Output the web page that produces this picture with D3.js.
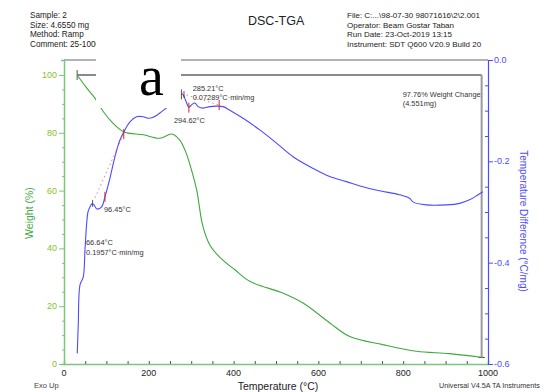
<!DOCTYPE html>
<html><head><meta charset="utf-8">
<script src="https://cdn.jsdelivr.net/npm/d3@7"></script>
<style>body{margin:0;background:#fff}svg{display:block}</style>
</head><body>
<svg id="c" width="551" height="392" font-family="'Liberation Sans',Arial,sans-serif"></svg>
<script>
// ---- data ----
const weightT = [31,52,73,93,113,140,187,226,254,273,287,297,313,327,344,367,403,438,517,564,627,674,752,831,909,988];
const weightW = [100,95.8,92,87.3,83.7,80.4,79.3,78.1,79.6,77.5,73.4,69,60.2,48,41.2,37,32.6,28.6,24.5,21.1,14.2,9.5,6.7,4.4,3.6,2.24];
const dtaT = [31.3,33.7,37.7,45.5,49.5,53.5,56.5,61.2,66,70.7,77.7,88.8,96.6,108.4,120.1,131.9,143.7,155.5,171.3,186.8,198.6,210.4,230.2,255,277.3,282.7,287.4,294.5,301.5,308.6,316.4,328.2,343.9,359.7,375.3,391,422.4,461.7,501,540.2,587.3,626.6,666,705,744.4,791.5,815,822.8,854.4,901.5,932.9,956.4,975,987.7];
const dtaD = [-0.579,-0.52,-0.444,-0.428,-0.375,-0.322,-0.3,-0.29,-0.284,-0.286,-0.294,-0.29,-0.27,-0.233,-0.191,-0.158,-0.138,-0.122,-0.112,-0.112,-0.115,-0.113,-0.102,-0.085,-0.066,-0.071,-0.081,-0.093,-0.088,-0.085,-0.092,-0.095,-0.092,-0.091,-0.092,-0.099,-0.115,-0.138,-0.164,-0.191,-0.214,-0.23,-0.24,-0.25,-0.258,-0.266,-0.273,-0.28,-0.286,-0.286,-0.283,-0.276,-0.267,-0.26];
const xTicks = [0,200,400,600,800,1000];
const wTicks = [0,20,40,60,80,100];
const dTicks = [0,-0.2,-0.4,-0.6];
const dTickLabels = ["0.0","-0.2","-0.4","-0.6"];
// tangent construction lines [T1,D1,T2,D2]
const tangents = [[73,-0.272,139.7,-0.148],[289,-0.069,366,-0.089]];
const redMarks = [[96.6,-0.270],[141,-0.146],[277,-0.068],[294.5,-0.094],[366,-0.089]];
const darkMarks = [[67.5,-0.284],[283,-0.069]];
const wStart = 31, wEnd = 985, wChange = 97.76;
const headerLeft = ["Sample: 2","Size:  4.6550 mg","Method: Ramp","Comment: 25-1000"];
const headerRight = ["File: C:...\\98-07-30 98071616\\2\\2.001","Operator: Beam Gostar Taban","Run Date: 23-Oct-2019 13:15","Instrument: SDT Q600 V20.9 Build 20"];

// ---- scales ----
const svg = d3.select("#c");
const x = d3.scaleLinear().domain([0,1000]).range([64,488]);
const yW = d3.scaleLinear().domain([0,100]).range([364,75]);
const yD = d3.scaleLinear().domain([-0.6,0]).range([364,60]);
const green="#3fa83f", blue="#4b4bff";

// top frame line
svg.append("line").attr("x1",64).attr("x2",488).attr("y1",60).attr("y2",60).attr("stroke","#9a9a9a").attr("stroke-width",1.5);

// x axis
const gx = svg.append("g").attr("transform","translate(0,364)");
gx.call(d3.axisBottom(x).tickValues(d3.range(0,1001,50)).tickSize(-3).tickFormat(""));
gx.call(g=>g.selectAll(".tick line").attr("stroke","#555"));
gx.call(g=>g.select(".domain").attr("stroke","#7cc67c").attr("stroke-width",1.5));
svg.selectAll(".xl").data(xTicks).enter().append("text").attr("x",d=>x(d)).attr("y",376).attr("text-anchor","middle").attr("font-size",9).attr("fill","#222").text(d=>d);

// left axis
const gl = svg.append("g").attr("transform","translate(64,0)");
const yWext = yW.copy().domain([0, yW.invert(60)]).range([364,60]);
gl.call(d3.axisLeft(yWext).tickValues(d3.range(0,101,5)).tickSize(3).tickFormat(""));
gl.selectAll(".tick line").attr("stroke","#7cc67c").attr("x2",d=>d%20===0?-5:-2).attr("x1",d=>d%20===0?0:1);
gl.select(".domain").attr("stroke","#7cc67c").attr("stroke-width",1.5);
svg.selectAll(".wl").data(wTicks).enter().append("text").attr("x",57).attr("y",d=>yW(d)+3).attr("text-anchor","end").attr("font-size",9).attr("fill","#8cbf2a").text(d=>d);

// right axis
const gr = svg.append("g").attr("transform","translate(488,0)");
gr.call(d3.axisRight(yD).tickValues(d3.range(0,13).map(i=>-i*0.05)).tickSize(3).tickFormat(""));
gr.selectAll(".tick line").attr("stroke",blue).attr("x1",(d,i)=>i%4===0?0:-3).attr("x2",(d,i)=>i%4===0?5:0);
gr.select(".domain").attr("stroke",blue).attr("stroke-width",1.2);
svg.selectAll(".dl").data(dTicks).enter().append("text").attr("x",494).attr("y",d=>yD(d)+3).attr("font-size",9).attr("fill",blue).text((d,i)=>dTickLabels[i]);

// weight change bracket
svg.append("line").attr("x1",x(wStart)).attr("x2",x(wEnd)).attr("y1",yW(100)).attr("y2",yW(100)).attr("stroke","#8a8a8a").attr("stroke-width",2);
svg.append("line").attr("x1",x(wEnd)).attr("x2",x(wEnd)).attr("y1",yW(100)).attr("y2",yW(100-wChange)).attr("stroke","#9a9a9a").attr("stroke-width",2);
svg.append("line").attr("x1",x(wStart)).attr("x2",x(wStart)).attr("y1",yW(100)-5).attr("y2",yW(100)+5).attr("stroke","#555").attr("stroke-width",1);
svg.append("line").attr("x1",x(wEnd)-3).attr("x2",x(wEnd)+3).attr("y1",yW(100-wChange)).attr("y2",yW(100-wChange)).attr("stroke","#333").attr("stroke-width",1);

// curves
const wData = weightT.map((t,i)=>[t,weightW[i]]);
const dData = dtaT.map((t,i)=>[t,dtaD[i]]);
svg.append("path").datum(wData).attr("fill","none").attr("stroke",green).attr("stroke-width",1.1)
  .attr("d",d3.line().x(d=>x(d[0])).y(d=>yW(d[1])).curve(d3.curveCatmullRom.alpha(0.5)));
svg.append("path").datum(dData).attr("fill","none").attr("stroke",blue).attr("stroke-width",1.1)
  .attr("d",d3.line().x(d=>x(d[0])).y(d=>yD(d[1])).curve(d3.curveCatmullRom.alpha(0.5)));

// tangent lines & markers
svg.selectAll(".tg").data(tangents).enter().append("line")
  .attr("x1",d=>x(d[0])).attr("y1",d=>yD(d[1])).attr("x2",d=>x(d[2])).attr("y2",d=>yD(d[3]))
  .attr("stroke","#ff5555").attr("stroke-width",0.8).attr("stroke-dasharray","1.5,3");
svg.selectAll(".rm").data(redMarks).enter().append("line")
  .attr("x1",d=>x(d[0])).attr("x2",d=>x(d[0])).attr("y1",d=>yD(d[1])-5).attr("y2",d=>yD(d[1])+5)
  .attr("stroke","#e02020").attr("stroke-width",1);
svg.selectAll(".dm").data(darkMarks).enter().append("line")
  .attr("x1",d=>x(d[0])).attr("x2",d=>x(d[0])).attr("y1",d=>yD(d[1])-4).attr("y2",d=>yD(d[1])+3)
  .attr("stroke","#333").attr("stroke-width",0.8);

// annotation texts
const ann = [
  [192.7,91,"285.21°C"],[192.7,100,"0.07289°C·min/mg"],[174,123,"294.62°C"],
  [104,211.5,"96.45°C"],[86,245,"66.64°C"],[86,254.5,"0.1957°C·min/mg"],
  [402.7,97,"97.76% Weight Change"],[402.7,106,"(4.551mg)"]];
svg.selectAll(".an").data(ann).enter().append("text").attr("x",d=>d[0]).attr("y",d=>d[1]).attr("font-size",7.4).attr("fill","#333").text(d=>d[2]);

// headers
svg.selectAll(".hl").data(headerLeft).enter().append("text").attr("x",30).attr("y",(d,i)=>18+i*9.6).attr("font-size",8.2).attr("fill","#222").text(d=>d);
svg.selectAll(".hr").data(headerRight).enter().append("text").attr("x",347).attr("y",(d,i)=>18+i*9.6).attr("font-size",8).attr("fill","#222").text(d=>d);
svg.append("text").attr("x",248).attr("y",24.5).attr("font-size",12.5).attr("fill","#222").text("DSC-TGA");

// axis titles
svg.append("text").attr("transform","translate(33,213) rotate(-90)").attr("text-anchor","middle").attr("font-size",10.5).attr("fill",green).text("Weight (%)");
svg.append("text").attr("transform","translate(520,221) rotate(90)").attr("text-anchor","middle").attr("font-size",10).attr("fill",blue).text("Temperature Difference (°C/mg)");
svg.append("text").attr("x",278).attr("y",390).attr("text-anchor","middle").attr("font-size",10.5).attr("fill","#222").text("Temperature (°C)");
svg.append("text").attr("x",34).attr("y",388).attr("font-size",7.5).attr("fill","#444").text("Exo Up");
svg.append("text").attr("x",439).attr("y",388).attr("font-size",7.2).attr("fill","#333").text("Universal V4.5A TA Instruments");

// white label box with "a"
svg.append("rect").attr("x",96).attr("y",38).attr("width",85).attr("height",70).attr("fill","#fff");
svg.append("text").attr("x",139).attr("y",95).attr("font-family","'Liberation Serif','Times New Roman',serif").attr("font-size",56).attr("fill","#000").text("a");
</script>
</body></html>
